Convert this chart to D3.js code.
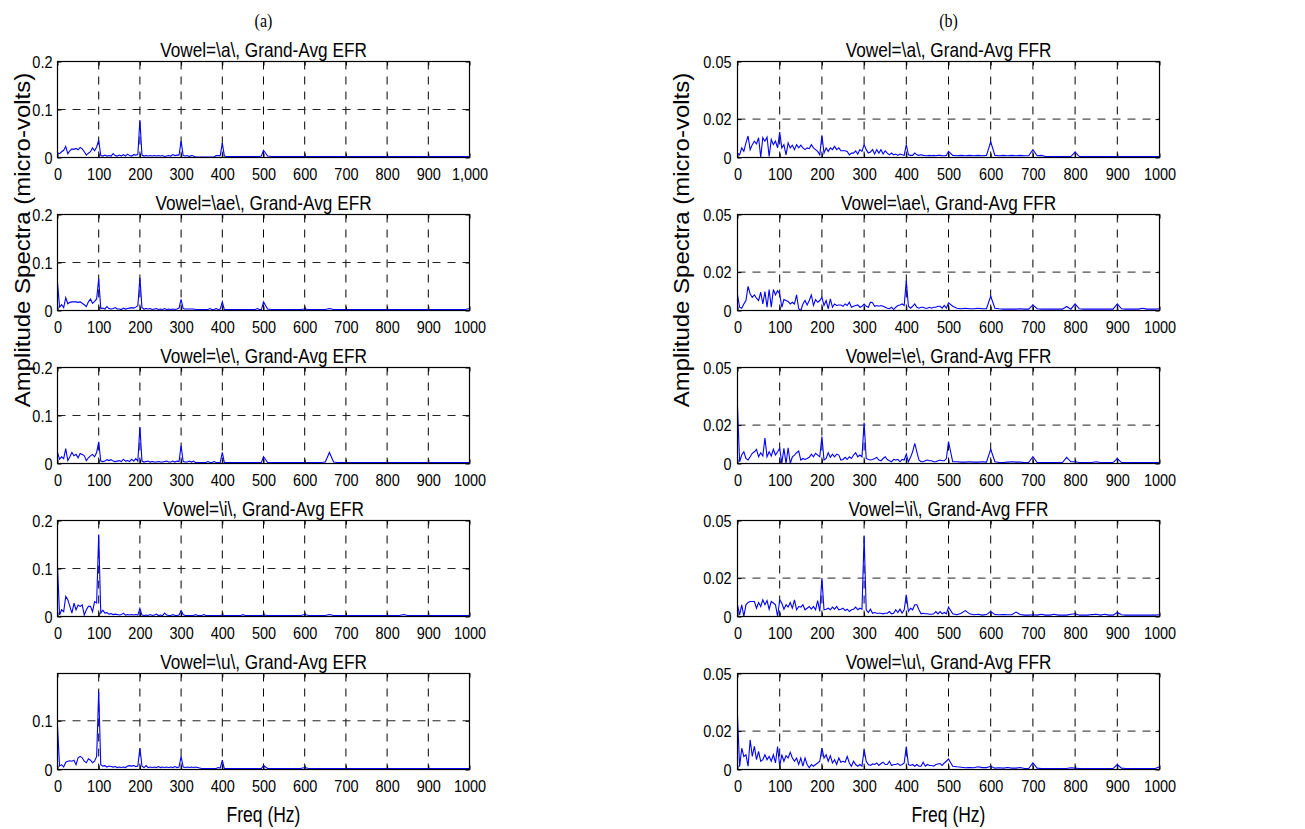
<!DOCTYPE html>
<html>
<head>
<meta charset="utf-8">
<script src="https://cdn.jsdelivr.net/npm/d3@7"></script>
<style>
  body { margin: 0; background: #fff; }
  svg text { font-family: "Liberation Sans", Arial, sans-serif; fill: #000; }
</style>
</head>
<body>
<div id="plot"></div>
<script>
// Frequency bins (Hz): 5 Hz steps up to 495 Hz, 10 Hz steps from 500 Hz on
const freqHz = d3.range(0, 500, 5).concat(d3.range(500, 1001, 10));

const xTicks = [0, 100, 200, 300, 400, 500, 600, 700, 800, 900, 1000];
const xTickLabels = ["0", "100", "200", "300", "400", "500", "600", "700", "800", "900", "1000"];
const xTickLabelsFirst = ["0", "100", "200", "300", "400", "500", "600", "700", "800", "900", "1,000"];

const efrTitles = ["Vowel=\\a\\, Grand-Avg EFR", "Vowel=\\ae\\, Grand-Avg EFR", "Vowel=\\e\\, Grand-Avg EFR",
                   "Vowel=\\i\\, Grand-Avg EFR", "Vowel=\\u\\, Grand-Avg EFR"];
const ffrTitles = ["Vowel=\\a\\, Grand-Avg FFR", "Vowel=\\ae\\, Grand-Avg FFR", "Vowel=\\e\\, Grand-Avg FFR",
                   "Vowel=\\i\\, Grand-Avg FFR", "Vowel=\\u\\, Grand-Avg FFR"];

const efrYTicks = [[0, 0.1, 0.2], [0, 0.1, 0.2], [0, 0.1, 0.2], [0, 0.1, 0.2], [0, 0.1]];
const efrYMax = [0.2, 0.2, 0.2, 0.2, 0.197];
const ffrYTicks = [0, 0.02, 0.05];
const ffrYMax = 0.05;

// EFR amplitude spectra (micro-volts)
const efrA = [
  0.010,0.008,0.012,0.015,0.023,0.008,0.014,0.018,0.017,0.019,
  0.016,0.021,0.018,0.012,0.005,0.009,0.012,0.020,0.014,0.022,
  0.036,0.004,0.003,0.005,0.003,0.004,0.003,0.008,0.004,0.003,
  0.005,0.003,0.006,0.003,0.007,0.004,0.003,0.006,0.005,0.006,
  0.078,0.005,0.003,0.004,0.003,0.004,0.003,0.004,0.003,0.004,
  0.003,0.004,0.002,0.003,0.004,0.003,0.006,0.004,0.005,0.005,
  0.034,0.004,0.003,0.004,0.002,0.004,0.003,0.001,0.001,0.001,
  0.001,0.001,0.001,0.001,0.001,0.001,0.001,0.004,0.004,0.004,
  0.030,0.003,0.002,0.002,0.002,0.002,0.002,0.002,0.002,0.002,
  0.002,0.002,0.002,0.002,0.002,0.002,0.002,0.002,0.002,0.003,
  0.015,0.003,0.002,0.002,0.002,0.002,0.002,0.002,0.002,0.002,
  0.002,0.002,0.002,0.002,0.002,0.002,0.002,0.002,0.002,0.002,
  0.002,0.002,0.002,0.002,0.002,0.002,0.002,0.002,0.002,0.002,
  0.002,0.002,0.002,0.002,0.002,0.002,0.002,0.002,0.002,0.002,
  0.002,0.002,0.002,0.002,0.002,0.002,0.002,0.002,0.002,0.002,
  0.002
];
const efrAe = [
  0.058,0.007,0.012,0.006,0.027,0.014,0.017,0.018,0.018,0.018,
  0.017,0.018,0.015,0.012,0.008,0.018,0.024,0.015,0.019,0.024,
  0.066,0.004,0.005,0.003,0.008,0.004,0.003,0.004,0.006,0.003,
  0.003,0.002,0.005,0.003,0.004,0.005,0.006,0.005,0.007,0.010,
  0.068,0.006,0.003,0.004,0.003,0.004,0.002,0.003,0.004,0.002,
  0.003,0.002,0.004,0.002,0.003,0.002,0.003,0.002,0.003,0.005,
  0.023,0.004,0.003,0.003,0.003,0.003,0.003,0.002,0.002,0.002,
  0.002,0.002,0.002,0.002,0.004,0.002,0.002,0.004,0.002,0.003,
  0.018,0.002,0.002,0.002,0.002,0.002,0.002,0.002,0.002,0.002,
  0.002,0.002,0.002,0.002,0.002,0.002,0.002,0.004,0.002,0.002,
  0.018,0.003,0.002,0.002,0.002,0.002,0.002,0.002,0.002,0.002,
  0.003,0.002,0.002,0.002,0.002,0.002,0.004,0.002,0.002,0.002,
  0.002,0.002,0.002,0.002,0.002,0.002,0.002,0.002,0.002,0.002,
  0.002,0.002,0.002,0.002,0.002,0.002,0.002,0.002,0.002,0.002,
  0.002,0.002,0.002,0.002,0.002,0.002,0.002,0.002,0.002,0.002,
  0.004
];
const efrE = [
  0.023,0.009,0.014,0.010,0.031,0.006,0.014,0.023,0.016,0.019,
  0.012,0.021,0.019,0.016,0.006,0.012,0.016,0.019,0.014,0.023,
  0.045,0.005,0.004,0.005,0.008,0.006,0.008,0.005,0.004,0.005,
  0.006,0.004,0.009,0.005,0.006,0.004,0.009,0.005,0.010,0.005,
  0.076,0.005,0.003,0.004,0.005,0.003,0.004,0.003,0.003,0.004,
  0.003,0.003,0.004,0.005,0.003,0.003,0.005,0.003,0.005,0.004,
  0.037,0.004,0.003,0.003,0.005,0.003,0.005,0.002,0.002,0.002,
  0.002,0.002,0.002,0.004,0.002,0.002,0.004,0.002,0.002,0.002,
  0.023,0.002,0.002,0.002,0.002,0.002,0.002,0.002,0.002,0.002,
  0.002,0.002,0.002,0.002,0.002,0.002,0.002,0.002,0.002,0.002,
  0.014,0.002,0.002,0.002,0.002,0.002,0.002,0.002,0.002,0.002,
  0.002,0.002,0.002,0.002,0.002,0.003,0.023,0.003,0.002,0.002,
  0.002,0.002,0.002,0.002,0.002,0.002,0.002,0.002,0.002,0.002,
  0.002,0.002,0.002,0.002,0.002,0.002,0.002,0.002,0.002,0.002,
  0.002,0.002,0.002,0.002,0.002,0.002,0.002,0.002,0.002,0.002,
  0.002
];
const efrI = [
  0.105,0.003,0.014,0.010,0.042,0.035,0.021,0.007,0.028,0.014,
  0.024,0.021,0.024,0.003,0.014,0.021,0.021,0.010,0.031,0.028,
  0.171,0.007,0.013,0.007,0.008,0.005,0.006,0.004,0.005,0.004,
  0.003,0.004,0.007,0.003,0.004,0.003,0.004,0.003,0.004,0.003,
  0.017,0.003,0.002,0.003,0.002,0.004,0.002,0.003,0.005,0.002,
  0.003,0.002,0.007,0.003,0.002,0.002,0.004,0.002,0.002,0.003,
  0.012,0.004,0.002,0.002,0.002,0.002,0.002,0.004,0.002,0.002,
  0.002,0.004,0.002,0.002,0.002,0.002,0.002,0.002,0.002,0.002,
  0.003,0.002,0.002,0.002,0.002,0.002,0.002,0.002,0.002,0.002,
  0.004,0.002,0.002,0.002,0.002,0.002,0.002,0.002,0.002,0.002,
  0.003,0.002,0.002,0.002,0.002,0.002,0.002,0.002,0.002,0.002,
  0.004,0.002,0.002,0.002,0.002,0.002,0.004,0.002,0.002,0.002,
  0.002,0.002,0.002,0.002,0.002,0.002,0.002,0.002,0.002,0.002,
  0.002,0.002,0.002,0.002,0.004,0.002,0.002,0.002,0.002,0.002,
  0.002,0.002,0.002,0.002,0.002,0.002,0.002,0.002,0.002,0.002,
  0.002
];
const efrU = [
  0.088,0.007,0.010,0.005,0.015,0.017,0.018,0.017,0.019,0.010,
  0.024,0.027,0.024,0.017,0.014,0.022,0.019,0.014,0.017,0.027,
  0.160,0.010,0.007,0.008,0.005,0.007,0.006,0.005,0.006,0.004,
  0.005,0.004,0.005,0.004,0.007,0.008,0.007,0.008,0.006,0.007,
  0.044,0.007,0.004,0.008,0.004,0.005,0.004,0.005,0.004,0.006,
  0.004,0.005,0.004,0.005,0.004,0.005,0.004,0.006,0.004,0.005,
  0.027,0.005,0.004,0.005,0.004,0.005,0.004,0.005,0.004,0.003,
  0.002,0.002,0.002,0.002,0.002,0.002,0.002,0.002,0.004,0.003,
  0.019,0.002,0.002,0.002,0.002,0.002,0.002,0.002,0.002,0.002,
  0.002,0.002,0.002,0.002,0.002,0.002,0.002,0.002,0.002,0.002,
  0.008,0.002,0.002,0.002,0.002,0.002,0.002,0.002,0.002,0.002,
  0.004,0.002,0.002,0.002,0.002,0.002,0.002,0.002,0.002,0.002,
  0.002,0.002,0.002,0.002,0.002,0.002,0.002,0.002,0.002,0.002,
  0.002,0.002,0.002,0.002,0.002,0.002,0.002,0.002,0.002,0.002,
  0.002,0.002,0.002,0.002,0.002,0.002,0.002,0.002,0.002,0.002,
  0.002
];

// FFR amplitude spectra (micro-volts)
const ffrA = [
  0.0023,0.0014,0.0050,0.0032,0.0076,0.0112,0.0041,0.0067,0.0085,0.0071,
  0.0103,0.0002,0.0103,0.0085,0.0106,0.0005,0.0094,0.0067,0.0085,0.0050,
  0.0133,0.0050,0.0067,0.0014,0.0076,0.0050,0.0064,0.0041,0.0067,0.0050,
  0.0064,0.0050,0.0041,0.0050,0.0046,0.0067,0.0050,0.0041,0.0032,0.0014,
  0.0115,0.0023,0.0050,0.0032,0.0050,0.0041,0.0058,0.0041,0.0050,0.0035,
  0.0035,0.0035,0.0032,0.0014,0.0023,0.0023,0.0035,0.0018,0.0041,0.0032,
  0.0067,0.0041,0.0023,0.0028,0.0041,0.0018,0.0041,0.0023,0.0041,0.0018,
  0.0035,0.0023,0.0014,0.0023,0.0014,0.0018,0.0011,0.0018,0.0014,0.0011,
  0.0067,0.0014,0.0011,0.0011,0.0023,0.0014,0.0011,0.0014,0.0011,0.0009,
  0.0009,0.0011,0.0009,0.0011,0.0009,0.0011,0.0011,0.0009,0.0009,0.0011,
  0.0032,0.0011,0.0009,0.0011,0.0009,0.0011,0.0009,0.0011,0.0009,0.0011,
  0.0081,0.0011,0.0009,0.0011,0.0009,0.0011,0.0009,0.0011,0.0009,0.0009,
  0.0041,0.0009,0.0011,0.0005,0.0005,0.0005,0.0005,0.0005,0.0005,0.0005,
  0.0028,0.0005,0.0005,0.0005,0.0005,0.0005,0.0005,0.0005,0.0005,0.0005,
  0.0005,0.0005,0.0005,0.0005,0.0005,0.0005,0.0005,0.0005,0.0005,0.0005,
  0.0005
];
const ffrAe = [
  0.0081,0.0017,0.0012,0.0034,0.0052,0.0126,0.0086,0.0069,0.0081,0.0064,
  0.0052,0.0095,0.0034,0.0098,0.0017,0.0109,0.0017,0.0109,0.0081,0.0103,
  0.0086,0.0017,0.0057,0.0052,0.0047,0.0034,0.0043,0.0034,0.0081,0.0009,
  0.0000,0.0034,0.0052,0.0029,0.0052,0.0081,0.0026,0.0057,0.0043,0.0052,
  0.0069,0.0026,0.0052,0.0009,0.0060,0.0017,0.0034,0.0026,0.0029,0.0029,
  0.0022,0.0034,0.0026,0.0043,0.0017,0.0022,0.0026,0.0029,0.0017,0.0022,
  0.0034,0.0022,0.0017,0.0043,0.0040,0.0022,0.0026,0.0022,0.0026,0.0022,
  0.0017,0.0012,0.0009,0.0017,0.0005,0.0017,0.0026,0.0029,0.0034,0.0026,
  0.0155,0.0022,0.0012,0.0022,0.0034,0.0017,0.0012,0.0017,0.0017,0.0012,
  0.0012,0.0017,0.0012,0.0017,0.0017,0.0022,0.0022,0.0012,0.0026,0.0012,
  0.0040,0.0022,0.0012,0.0009,0.0012,0.0009,0.0009,0.0012,0.0009,0.0009,
  0.0074,0.0012,0.0009,0.0007,0.0007,0.0007,0.0007,0.0009,0.0007,0.0007,
  0.0029,0.0009,0.0007,0.0007,0.0007,0.0007,0.0007,0.0007,0.0021,0.0007,
  0.0034,0.0009,0.0007,0.0007,0.0007,0.0007,0.0007,0.0007,0.0007,0.0007,
  0.0034,0.0009,0.0007,0.0007,0.0007,0.0007,0.0012,0.0007,0.0007,0.0007,
  0.0009
];
const ffrE = [
  0.0295,0.0009,0.0044,0.0061,0.0026,0.0018,0.0035,0.0053,0.0061,0.0074,
  0.0035,0.0056,0.0039,0.0132,0.0035,0.0061,0.0039,0.0074,0.0044,0.0061,
  0.0079,0.0000,0.0079,0.0000,0.0082,0.0000,0.0035,0.0044,0.0056,0.0065,
  0.0018,0.0026,0.0021,0.0026,0.0032,0.0049,0.0035,0.0053,0.0044,0.0035,
  0.0140,0.0018,0.0026,0.0056,0.0032,0.0049,0.0035,0.0049,0.0044,0.0018,
  0.0021,0.0032,0.0021,0.0035,0.0026,0.0044,0.0056,0.0035,0.0044,0.0035,
  0.0214,0.0026,0.0021,0.0018,0.0021,0.0026,0.0032,0.0018,0.0014,0.0026,
  0.0035,0.0021,0.0014,0.0009,0.0021,0.0018,0.0021,0.0009,0.0021,0.0018,
  0.0049,0.0009,0.0032,0.0061,0.0105,0.0061,0.0018,0.0009,0.0009,0.0014,
  0.0018,0.0014,0.0014,0.0009,0.0009,0.0014,0.0018,0.0014,0.0014,0.0026,
  0.0114,0.0009,0.0009,0.0007,0.0007,0.0009,0.0007,0.0007,0.0009,0.0007,
  0.0074,0.0009,0.0005,0.0005,0.0007,0.0009,0.0007,0.0007,0.0005,0.0005,
  0.0035,0.0005,0.0005,0.0005,0.0005,0.0005,0.0005,0.0005,0.0032,0.0009,
  0.0009,0.0005,0.0005,0.0005,0.0005,0.0009,0.0005,0.0005,0.0005,0.0005,
  0.0026,0.0005,0.0005,0.0005,0.0005,0.0005,0.0005,0.0005,0.0005,0.0005,
  0.0005
];
const ffrI = [
  0.0061,0.0009,0.0061,0.0000,0.0061,0.0073,0.0078,0.0078,0.0078,0.0043,
  0.0073,0.0052,0.0087,0.0061,0.0083,0.0038,0.0078,0.0070,0.0061,0.0000,
  0.0087,0.0070,0.0038,0.0061,0.0049,0.0073,0.0043,0.0087,0.0035,0.0052,
  0.0049,0.0061,0.0035,0.0043,0.0052,0.0038,0.0052,0.0035,0.0083,0.0026,
  0.0200,0.0035,0.0038,0.0043,0.0035,0.0049,0.0038,0.0052,0.0035,0.0038,
  0.0043,0.0031,0.0038,0.0026,0.0035,0.0038,0.0049,0.0035,0.0043,0.0038,
  0.0417,0.0035,0.0021,0.0038,0.0017,0.0021,0.0017,0.0017,0.0017,0.0014,
  0.0017,0.0017,0.0026,0.0014,0.0017,0.0035,0.0021,0.0038,0.0017,0.0035,
  0.0113,0.0026,0.0043,0.0035,0.0061,0.0061,0.0035,0.0014,0.0017,0.0014,
  0.0014,0.0012,0.0012,0.0014,0.0026,0.0014,0.0026,0.0014,0.0021,0.0014,
  0.0049,0.0014,0.0009,0.0017,0.0031,0.0014,0.0009,0.0012,0.0007,0.0010,
  0.0026,0.0010,0.0009,0.0010,0.0009,0.0009,0.0023,0.0010,0.0007,0.0007,
  0.0009,0.0007,0.0012,0.0007,0.0007,0.0012,0.0007,0.0007,0.0007,0.0012,
  0.0014,0.0007,0.0007,0.0007,0.0010,0.0012,0.0007,0.0012,0.0007,0.0007,
  0.0021,0.0009,0.0007,0.0007,0.0007,0.0007,0.0007,0.0007,0.0007,0.0007,
  0.0009
];
const ffrU = [
  0.0282,0.0014,0.0111,0.0068,0.0077,0.0017,0.0154,0.0068,0.0120,0.0051,
  0.0094,0.0043,0.0051,0.0077,0.0051,0.0068,0.0043,0.0077,0.0034,0.0120,
  0.0017,0.0077,0.0043,0.0072,0.0060,0.0089,0.0060,0.0043,0.0060,0.0026,
  0.0060,0.0017,0.0060,0.0026,0.0009,0.0026,0.0017,0.0026,0.0034,0.0043,
  0.0111,0.0060,0.0077,0.0043,0.0072,0.0034,0.0051,0.0026,0.0060,0.0038,
  0.0043,0.0038,0.0068,0.0034,0.0017,0.0043,0.0026,0.0017,0.0026,0.0017,
  0.0103,0.0043,0.0026,0.0021,0.0029,0.0026,0.0034,0.0021,0.0031,0.0038,
  0.0026,0.0026,0.0043,0.0021,0.0026,0.0026,0.0031,0.0021,0.0026,0.0034,
  0.0120,0.0026,0.0021,0.0026,0.0017,0.0026,0.0017,0.0017,0.0038,0.0017,
  0.0026,0.0021,0.0021,0.0017,0.0026,0.0029,0.0031,0.0021,0.0034,0.0043,
  0.0055,0.0017,0.0014,0.0012,0.0009,0.0010,0.0009,0.0014,0.0010,0.0010,
  0.0017,0.0007,0.0009,0.0007,0.0010,0.0007,0.0007,0.0010,0.0005,0.0005,
  0.0034,0.0007,0.0005,0.0005,0.0005,0.0005,0.0005,0.0005,0.0005,0.0009,
  0.0007,0.0005,0.0005,0.0005,0.0005,0.0005,0.0005,0.0005,0.0005,0.0005,
  0.0026,0.0007,0.0005,0.0005,0.0005,0.0005,0.0005,0.0005,0.0005,0.0005,
  0.0014
];

const efrSeries = [efrA, efrAe, efrE, efrI, efrU];
const ffrSeries = [ffrA, ffrAe, ffrE, ffrI, ffrU];

// Layout
const width = 1305, height = 829;
const panelTop = [61.5, 214.5, 367.5, 520.5, 673.5];
const panelH = 96;
const leftCol = {x: 57.5, w: 412, pad: 5, ylab: 30};
const rightCol = {x: 737.5, w: 422, pad: 6, ylab: 689};

var svg = d3.select("#plot")
     .append("svg")
     .attr("width", width)
     .attr("height", height);

// put a text at (x, y) and stretch it vertically (the source figure's text is tall)
function tallText(sel, x, y, k) {
     return sel.attr("x", x)
          .attr("y", y / k)
          .attr("transform", "scale(1," + k + ")");
}

function drawPanel(col, top, title, values, yMax, yTicks, xLabels) {
     let scaleX = d3.scaleLinear().domain([0, 1000]).range([col.x, col.x + col.w]);
     let scaleY = d3.scaleLinear().domain([0, yMax]).range([top + panelH, top]);
     let g = svg.append("g");

     // dashed grid
     g.selectAll(".vgrid")
          .data(xTicks.filter(d => d > 0 && d < 1000))
          .enter()
          .append("line")
          .attr("x1", d => scaleX(d))
          .attr("x2", d => scaleX(d))
          .attr("y1", top)
          .attr("y2", top + panelH)
          .attr("stroke", "#000")
          .attr("stroke-width", 1)
          .attr("stroke-dasharray", "8,7");

     g.selectAll(".hgrid")
          .data(yTicks.filter(d => d > 0 && d < yMax))
          .enter()
          .append("line")
          .attr("x1", col.x)
          .attr("x2", col.x + col.w)
          .attr("y1", d => scaleY(d))
          .attr("y2", d => scaleY(d))
          .attr("stroke", "#222")
          .attr("stroke-width", 1)
          .attr("stroke-dasharray", "8,7");

     // spectrum
     g.append("path")
          .datum(values)
          .attr("fill", "none")
          .attr("stroke", "#0000ff")
          .attr("stroke-width", 1.1)
          .attr("d", d3.line()
               .x((d, i) => scaleX(freqHz[i]))
               .y(d => scaleY(d)));

     // axes with inward ticks
     let xAxis = g.append("g")
          .attr("transform", "translate(0," + (top + panelH) + ")")
          .call(d3.axisBottom(scaleX)
               .tickValues(xTicks)
               .tickFormat((d, i) => xLabels[i])
               .tickSizeInner(-4)
               .tickSizeOuter(0)
               .tickPadding(10));

     let yAxis = g.append("g")
          .attr("transform", "translate(" + col.x + ",0)")
          .call(d3.axisLeft(scaleY)
               .tickValues(yTicks)
               .tickFormat(d => String(d))
               .tickSizeInner(-4)
               .tickSizeOuter(0)
               .tickPadding(col.pad));

     g.append("g")
          .attr("transform", "translate(0," + top + ")")
          .call(d3.axisTop(scaleX).tickValues(xTicks).tickFormat("").tickSizeInner(-4).tickSizeOuter(0));
     g.append("g")
          .attr("transform", "translate(" + (col.x + col.w) + ",0)")
          .call(d3.axisRight(scaleY).tickValues(yTicks).tickFormat("").tickSizeInner(-4).tickSizeOuter(0));

     g.selectAll(".domain").remove();
     g.selectAll(".tick line").attr("stroke", "#000");

     [xAxis, yAxis].forEach(function(ax) {
          ax.selectAll(".tick text")
               .attr("font-family", null)
               .style("font-size", "14.5px")
               .each(function() {
                    let t = d3.select(this);
                    t.attr("y", (+t.attr("y") || 0) / 1.2)
                     .attr("transform", "scale(1,1.2)");
               });
     });

     // frame
     g.append("rect")
          .attr("x", col.x)
          .attr("y", top)
          .attr("width", col.w)
          .attr("height", panelH)
          .attr("fill", "none")
          .attr("stroke", "#000")
          .attr("stroke-width", 1.2);

     // title
     tallText(g.append("text"), col.x + col.w / 2, top - 4.5, 1.14)
          .attr("text-anchor", "middle")
          .style("font-size", "17.2px")
          .text(title);
}

for (let i = 0; i < 5; i++) {
     drawPanel(leftCol, panelTop[i], efrTitles[i], efrSeries[i], efrYMax[i], efrYTicks[i],
               i == 0 ? xTickLabelsFirst : xTickLabels);
     drawPanel(rightCol, panelTop[i], ffrTitles[i], ffrSeries[i], ffrYMax, ffrYTicks, xTickLabels);
}

// captions, x labels, y labels
[[leftCol, "(a)"], [rightCol, "(b)"]].forEach(function(c) {
     let col = c[0];
     tallText(svg.append("text"), col.x + col.w / 2, 27, 1.15)
          .attr("text-anchor", "middle")
          .style("font-family", "'Liberation Serif', 'Times New Roman', serif")
          .style("font-size", "16px")
          .text(c[1]);

     tallText(svg.append("text"), col.x + col.w / 2, 822, 1.27)
          .attr("text-anchor", "middle")
          .style("font-size", "17.5px")
          .text("Freq (Hz)");

     svg.append("text")
          .attr("text-anchor", "middle")
          .attr("transform", "translate(" + col.ylab + ",240) rotate(-90) scale(1.09,1)")
          .style("font-size", "22px")
          .text("Amplitude Spectra (micro-volts)");
});
</script>
</body>
</html>
